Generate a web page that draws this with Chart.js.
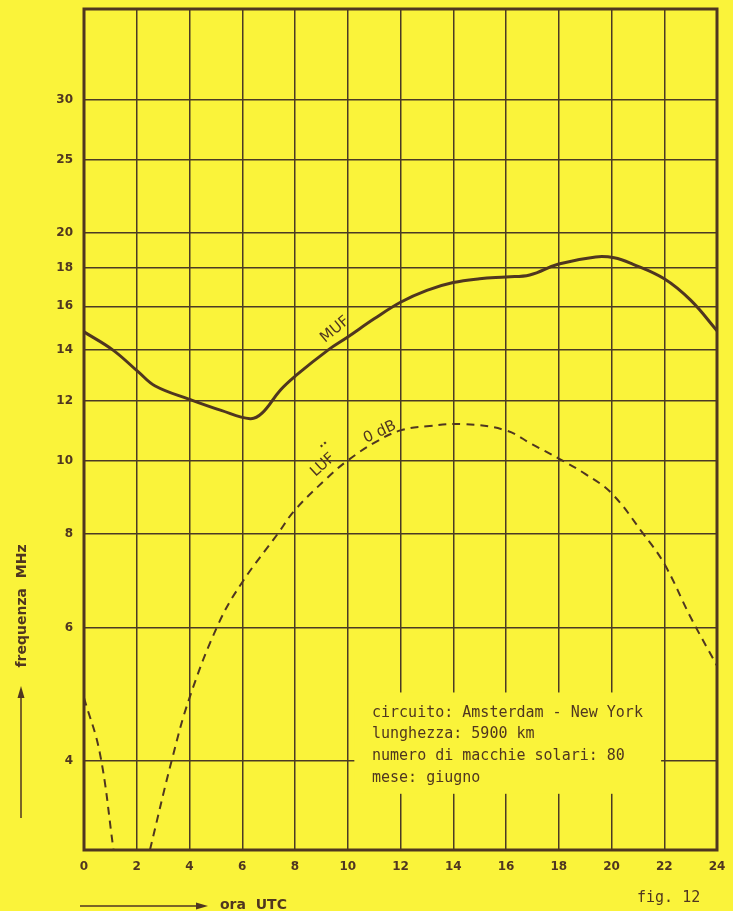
<!DOCTYPE html>
<html>
<head>
<meta charset="utf-8">
<script src="https://cdn.jsdelivr.net/npm/chart.js@4/dist/chart.umd.min.js"></script>
<style>
    html, body { margin: 0; padding: 0; background: #faf33a; }
    canvas { display: block; }
</style>
</head>
<body>
<canvas id="mufChart" width="733" height="911"></canvas>
<script>
// Values (ora UTC -> frequenza MHz)
var mufHours  = [0, 1.1, 2.06, 2.7, 4, 5.2, 6.3, 6.75, 7.45, 8.05, 9.25, 10, 11, 12, 13, 14, 15, 16, 16.9, 18, 19.4, 20.1, 20.8, 22, 23, 24];
var mufValues = [14.8, 14, 13.1, 12.55, 12.05, 11.65, 11.36, 11.55, 12.4, 12.97, 14, 14.57, 15.4, 16.2, 16.8, 17.2, 17.4, 17.5, 17.6, 18.2, 18.6, 18.55, 18.2, 17.4, 16.3, 14.85];

// LUF drops below the bottom of the chart between ~1 and ~2.5 h (null = gap)
var lufHours  = [0, 0.6, 1.12, 1.8, 2.5, 3.32, 4, 5.1, 6, 7.35, 8, 9.25, 10, 11, 12, 13, 14.4, 16, 17, 18, 19, 20, 21.2, 22, 23, 24];
var lufValues = [4.85, 4.1, 3.05, null, 3.05, 4, 4.85, 6.08, 6.9, 8.0, 8.6, 9.5, 10, 10.55, 10.96, 11.1, 11.17, 10.96, 10.5, 10.06, 9.6, 9.05, 8.0, 7.3, 6.2, 5.35];

var yTicks = [4, 6, 8, 10, 12, 14, 16, 18, 20, 25, 30];
var xTicks = [0, 2, 4, 6, 8, 10, 12, 14, 16, 18, 20, 22, 24];

var infoLines = [
    'circuito: Amsterdam - New York',
    'lunghezza: 5900 km',
    'numero di macchie solari: 80',
    'mese: giugno'
];

var paper = '#faf33a';
var ink = '#4f3620';
var gridInk = '#4a3a24';

function toPoints(hours, values) {
    return hours.map(function (h, i) { return { x: h, y: values[i] }; });
}

// Frame, blank box behind the legend text, and all the hand-written labels
var paperPlugin = {
    id: 'paper',
    beforeDatasetsDraw: function (chart) {
        var ctx = chart.ctx;
        var x = chart.scales.x, y = chart.scales.y;
        // grid is interrupted where the info text sits
        ctx.save();
        ctx.fillStyle = paper;
        var l = x.getPixelForValue(10.25), r = x.getPixelForValue(21.88);
        var t = y.getPixelForValue(4.93), b = y.getPixelForValue(3.62);
        ctx.fillRect(l, t, r - l, b - t);
        ctx.restore();
    },
    afterDraw: function (chart) {
        var ctx = chart.ctx;
        var a = chart.chartArea;
        var x = chart.scales.x, y = chart.scales.y;

        ctx.save();
        ctx.strokeStyle = ink;
        ctx.lineWidth = 3;
        ctx.strokeRect(a.left, a.top, a.right - a.left, a.bottom - a.top);

        ctx.fillStyle = ink;
        ctx.textBaseline = 'middle';

        // info text
        ctx.font = '15px "DejaVu Sans Mono"';
        ctx.textAlign = 'left';
        infoLines.forEach(function (line, i) {
            ctx.fillText(line, 372, 713 + i * 21.6);
        });

        // curve labels
        function rotated(text, h, v, deg, font) {
            ctx.save();
            ctx.translate(x.getPixelForValue(h), y.getPixelForValue(v));
            ctx.rotate(deg * Math.PI / 180);
            ctx.font = font;
            ctx.textAlign = 'center';
            ctx.fillText(text, 0, 0);
            ctx.restore();
        }
        rotated('MUF', 9.52, 14.9, -40, '15px "DejaVu Sans"');
        rotated('LUF', 9.06, 9.86, -42, '15px "DejaVu Sans"');
        rotated('..', 9.02, 10.55, -40, 'bold 12px "DejaVu Sans"');
        rotated('0 dB', 11.22, 10.9, -25, '15px "DejaVu Sans"');

        // y axis title with arrow
        ctx.save();
        ctx.translate(22, 606);
        ctx.rotate(-Math.PI / 2);
        ctx.font = 'bold 14px "DejaVu Sans"';
        ctx.textAlign = 'center';
        ctx.fillText('frequenza  MHz', 0, 0);
        ctx.restore();

        ctx.lineWidth = 1.5;
        ctx.beginPath();
        ctx.moveTo(21, 818);
        ctx.lineTo(21, 692);
        ctx.stroke();
        ctx.beginPath();
        ctx.moveTo(21, 686);
        ctx.lineTo(17.5, 698);
        ctx.lineTo(24.5, 698);
        ctx.closePath();
        ctx.fill();

        // x axis title with arrow
        ctx.beginPath();
        ctx.moveTo(80, 906);
        ctx.lineTo(200, 906);
        ctx.stroke();
        ctx.beginPath();
        ctx.moveTo(208, 906);
        ctx.lineTo(196, 902.5);
        ctx.lineTo(196, 909.5);
        ctx.closePath();
        ctx.fill();

        ctx.font = 'bold 14px "DejaVu Sans"';
        ctx.textAlign = 'left';
        ctx.fillText('ora  UTC', 220, 905);

        ctx.font = '15px "DejaVu Sans Mono"';
        ctx.fillText('fig. 12', 637, 898);
        ctx.restore();
    }
};

var ctx = document.getElementById('mufChart');

var mufChart = new Chart(ctx, {
    type: 'line',
    data: {
        datasets: [{
            label: 'MUF',
            data: toPoints(mufHours, mufValues),
            borderColor: ink,
            borderWidth: 3,
            pointRadius: 0,
            tension: 0.4,
            fill: false
        }, {
            label: 'LUF 0 dB',
            data: toPoints(lufHours, lufValues),
            borderColor: ink,
            borderWidth: 2,
            borderDash: [8, 6],
            pointRadius: 0,
            tension: 0.4,
            spanGaps: false,
            fill: false
        }]
    },
    options: {
        responsive: false,
        animation: false,
        layout: { padding: { top: 9, right: 16, left: 0, bottom: 0 } },
        plugins: {
            legend: { display: false },
            tooltip: { enabled: false }
        },
        scales: {
            x: {
                type: 'linear',
                min: 0,
                max: 24,
                afterBuildTicks: function (scale) {
                    scale.ticks = xTicks.map(function (v) { return { value: v }; });
                },
                afterFit: function (scale) {
                    scale.height = 61;
                    scale.paddingLeft = 0;
                    scale.paddingRight = 0;
                },
                grid: { color: gridInk, lineWidth: 1.5, drawTicks: false },
                border: { display: false },
                ticks: {
                    padding: 10,
                    color: ink,
                    font: { family: 'DejaVu Sans', size: 12, weight: 'bold' },
                    callback: function (v) { return String(v); }
                }
            },
            y: {
                type: 'logarithmic',
                min: 3.05,
                max: 39.6,
                afterBuildTicks: function (scale) {
                    scale.ticks = yTicks.map(function (v) { return { value: v }; });
                },
                afterFit: function (scale) {
                    scale.width = 84;
                    scale.paddingTop = 0;
                    scale.paddingBottom = 0;
                },
                grid: { color: gridInk, lineWidth: 1.5, drawTicks: false },
                border: { display: false },
                ticks: {
                    padding: 11,
                    color: ink,
                    font: { family: 'DejaVu Sans', size: 12, weight: 'bold' },
                    callback: function (v) { return String(v); }
                }
            }
        }
    },
    plugins: [paperPlugin]
});
</script>
</body>
</html>
